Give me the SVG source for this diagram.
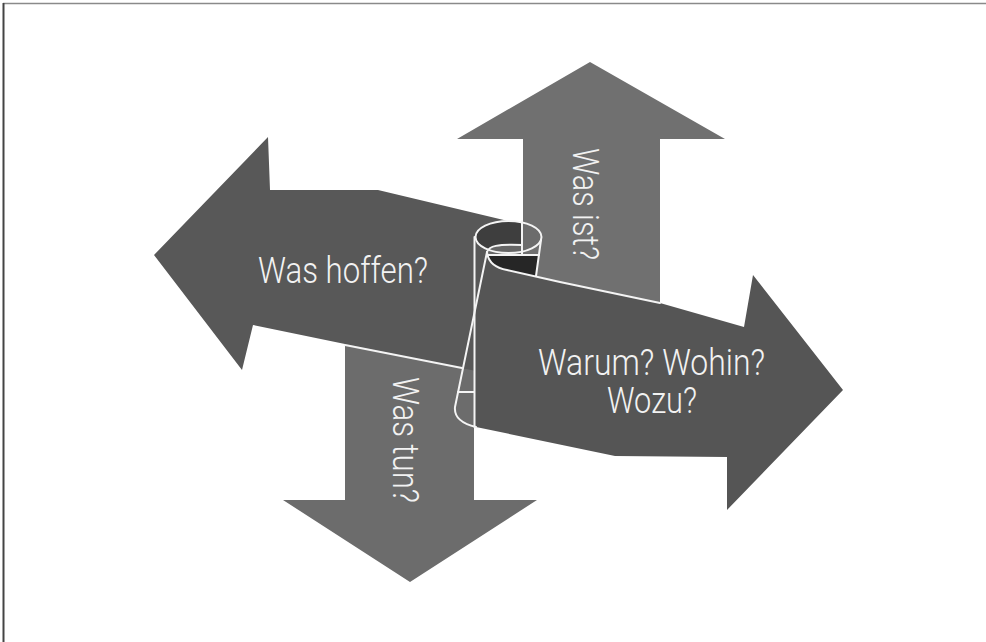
<svg xmlns="http://www.w3.org/2000/svg" width="986" height="642" viewBox="0 0 986 642">
<defs>
<style>
.lbl{font-family:Roboto,"Liberation Sans",sans-serif;font-weight:300;font-size:36px;fill:#f2f2f2;text-anchor:middle}
.edge{fill:none;stroke:#f4f4f4;stroke-width:2;stroke-linejoin:round;stroke-linecap:round}
</style>
<clipPath id="rightHalf"><rect x="522" y="200" width="40" height="55"/></clipPath>
</defs>
<rect x="0" y="0" width="986" height="642" fill="#ffffff"/>
<line x1="3" y1="3.5" x2="986" y2="3.5" stroke="#8a8a8a" stroke-width="1.5"/>
<line x1="3.5" y1="3" x2="3.5" y2="642" stroke="#444444" stroke-width="2"/>

<g id="arrow-up">
<polygon points="590,62 725,139 660,139 660,315 523,315 523,139 457,139" fill="#707070"/>
<text class="lbl" transform="translate(573,204) rotate(90)" textLength="112" lengthAdjust="spacingAndGlyphs">Was ist?</text>
</g>

<g id="arrow-down">
<polygon points="345,330 474,330 474,500 537,500 410,582 283,500 345,500" fill="#6c6c6c"/>
<text class="lbl" transform="translate(393,440) rotate(90)" textLength="126" lengthAdjust="spacingAndGlyphs">Was tun?</text>
</g>

<g id="arrow-left">
<polygon points="154,255 268,137 270,190 378,190 508,221 510,300 476,371 253,325 242,370" fill="#585858"/>
<text class="lbl" x="343" y="283" textLength="170" lengthAdjust="spacingAndGlyphs">Was hoffen?</text>
</g>

<g id="scroll">
<ellipse cx="508.5" cy="237" rx="33" ry="16" fill="#3e3e3e"/>
<ellipse cx="508.5" cy="237" rx="33" ry="16" fill="#6c6c6c" clip-path="url(#rightHalf)"/>
<path d="M487,252 C489,246 497,244 522,245 L522,255 L488,255 Z" fill="#666666"/>
<polygon points="487,255 539,255 536,277 507,270 490,262" fill="#262626"/>
</g>

<g id="arrow-right">
<path d="M487,252 C488,262 496,268 507,270 L560,282 L660,303 L744,327 L753,275 L843,390 L727,510 L727,457 L615,456 L476,427 L474,427 L474,315 Z" fill="#555555"/>
<text class="lbl" x="651.5" y="375" textLength="227" lengthAdjust="spacingAndGlyphs">Warum? Wohin?</text>
<text class="lbl" x="652" y="413" textLength="90" lengthAdjust="spacingAndGlyphs">Wozu?</text>
</g>

<g id="connectors">
<path class="edge" d="M345,345 L462,368"/>
<path class="edge" d="M487,252 L455,407 C454,417 462,424 476,427"/>
<path class="edge" d="M474.5,237 L474.5,427"/>
<path class="edge" d="M458,392 L474,392"/>
<path class="edge" d="M487,252 C488,262 496,268 507,270 L560,282 L660,303"/>
<ellipse class="edge" cx="508.5" cy="237" rx="33" ry="16"/>
<path class="edge" d="M541,240 L536,276"/>
<path class="edge" d="M487,252 C489,246 497,244 522,245"/>
<path class="edge" d="M488,255 L539,255"/>
<path class="edge" d="M522,221 L522,255"/>
</g>
</svg>
